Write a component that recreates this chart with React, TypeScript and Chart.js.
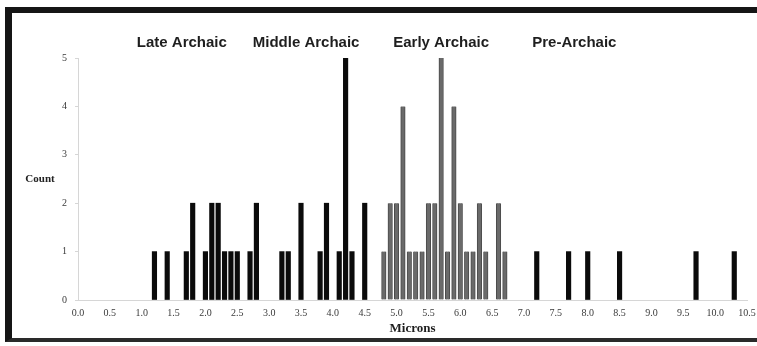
import React, { useEffect, useRef } from "react";
import { Chart, registerables } from "chart.js";

Chart.register(...registerables);

// ---- Data ----
const lateArchaicMicrons = [1.2, 1.4, 1.7, 1.8, 2.0, 2.1, 2.2, 2.3, 2.4, 2.5, 2.7, 2.8];
const lateArchaicCounts = [1, 1, 1, 2, 1, 2, 2, 1, 1, 1, 1, 2];

const middleArchaicMicrons = [3.2, 3.3, 3.5, 3.8, 3.9, 4.1, 4.2, 4.3, 4.5];
const middleArchaicCounts = [1, 1, 2, 1, 2, 1, 5, 1, 2];

const earlyArchaicMicrons = [4.8, 4.9, 5.0, 5.1, 5.2, 5.3, 5.4, 5.5, 5.6, 5.7, 5.8, 5.9, 6.0, 6.1, 6.2, 6.3, 6.4, 6.6, 6.7];
const earlyArchaicCounts = [1, 2, 2, 4, 1, 1, 1, 2, 2, 5, 1, 4, 2, 1, 1, 2, 1, 2, 1];

const preArchaicMicrons = [7.2, 7.7, 8.0, 8.5, 9.7, 10.3];
const preArchaicCounts = [1, 1, 1, 1, 1, 1];

const periodNames = ["Late Archaic", "Middle Archaic", "Early Archaic", "Pre-Archaic"];
const periodLabelMicrons = [1.63, 3.58, 5.7, 7.79];

const xMin = 0;
const xMax = 10.5;
const xStep = 0.5;
const yMin = 0;
const yMax = 5;
const yStep = 1;

const xTitle = "Microns";
const yTitle = "Count";

const toPoints = (xs: number[], ys: number[]) => xs.map((x, i) => ({ x, y: ys[i] }));

const SERIF = "'Liberation Serif', 'Times New Roman', serif";
const SANS = "'Liberation Sans', Arial, sans-serif";

const textPlugin = {
  id: "periodText",
  afterDraw(chart: any) {
    const { ctx, chartArea, scales } = chart;
    const xs = scales.x;
    const ys = scales.y;
    ctx.save();
    ctx.fillStyle = "#1e1e1e";
    ctx.font = `bold 15px ${SANS}`;
    ctx.textAlign = "center";
    ctx.textBaseline = "middle";
    periodNames.forEach((name, i) => {
      ctx.fillText(name, xs.getPixelForValue(periodLabelMicrons[i]), chartArea.top - 15);
    });
    ctx.font = `bold 11px ${SERIF}`;
    ctx.fillStyle = "#222";
    ctx.fillText(yTitle, chartArea.left - 38, ys.getPixelForValue((yMin + yMax) / 2));
    ctx.restore();
  },
};

export default function App() {
  const canvasRef = useRef<HTMLCanvasElement | null>(null);

  useEffect(() => {
    if (!canvasRef.current) return;
    const black = "#0b0b0b";
    const grey = "#6a6a6a";
    const chart = new Chart(canvasRef.current, {
      type: "bar",
      data: {
        datasets: [
          { label: "Late Archaic", data: toPoints(lateArchaicMicrons, lateArchaicCounts), backgroundColor: black },
          { label: "Middle Archaic", data: toPoints(middleArchaicMicrons, middleArchaicCounts), backgroundColor: black },
          { label: "Early Archaic", data: toPoints(earlyArchaicMicrons, earlyArchaicCounts), backgroundColor: grey, borderColor: "#4a4a4a", borderWidth: { left: 1, right: 1, top: 0, bottom: 0 } },
          { label: "Pre-Archaic", data: toPoints(preArchaicMicrons, preArchaicCounts), backgroundColor: black },
        ] as any,
      },
      options: {
        responsive: false,
        animation: false,
        events: [],
        datasets: { bar: { grouped: false, barThickness: 4.5 } } as any,
        layout: { padding: { top: 58, right: 10, bottom: 8, left: 0 } },
        plugins: { legend: { display: false }, tooltip: { enabled: false }, title: { display: false } },
        scales: {
          x: {
            type: "linear",
            min: xMin,
            max: xMax,
            offset: false,
            afterFit: (axis: any) => {
              axis.height = 38;
              axis.paddingRight = 10;
              axis.paddingLeft = 0;
            },
            afterBuildTicks: (axis: any) => {
              const t = [];
              for (let v = xMin; v <= xMax + 1e-9; v += xStep) t.push({ value: Math.round(v * 10) / 10 });
              axis.ticks = t;
            },
            grid: { display: false, drawTicks: false },
            border: { display: true, color: "#d6d6d6", width: 1 },
            ticks: {
              autoSkip: false,
              maxRotation: 0,
              padding: 7,
              color: "#3a3a3a",
              font: { family: SERIF, size: 10 },
              callback: (v: any) => Number(v).toFixed(1),
            },
            title: {
              display: true,
              text: xTitle,
              color: "#1e1e1e",
              font: { family: SERIF, size: 13, weight: "bold" },
              padding: { top: 0, bottom: 2 },
            },
          },
          y: {
            type: "linear",
            min: yMin,
            max: yMax,
            afterFit: (axis: any) => { axis.width = 78; },
            grid: { display: true, drawOnChartArea: false, drawTicks: true, tickLength: 3, color: "#d6d6d6" },
            border: { display: true, color: "#d6d6d6", width: 1 },
            ticks: {
              stepSize: yStep,
              padding: 8,
              color: "#3a3a3a",
              font: { family: SERIF, size: 10 },
            },
          },
        },
      } as any,
      plugins: [textPlugin],
    });
    return () => chart.destroy();
  }, []);

  return (
    <div style={{ position: "fixed", left: 0, top: 0, width: 757, height: 346, overflow: "hidden", background: "#fff" }}>
      <div
        style={{
          position: "absolute",
          left: 5,
          top: 7,
          width: 800,
          height: 335,
          boxSizing: "border-box",
          borderTop: "6px solid #151515",
          borderLeft: "7px solid #151515",
          borderBottom: "4px solid #2a2a2a",
          background: "#fff",
        }}
      />
      <canvas ref={canvasRef} width={757} height={346} style={{ position: "absolute", left: 0, top: 0, display: "block" }} />
    </div>
  );
}
